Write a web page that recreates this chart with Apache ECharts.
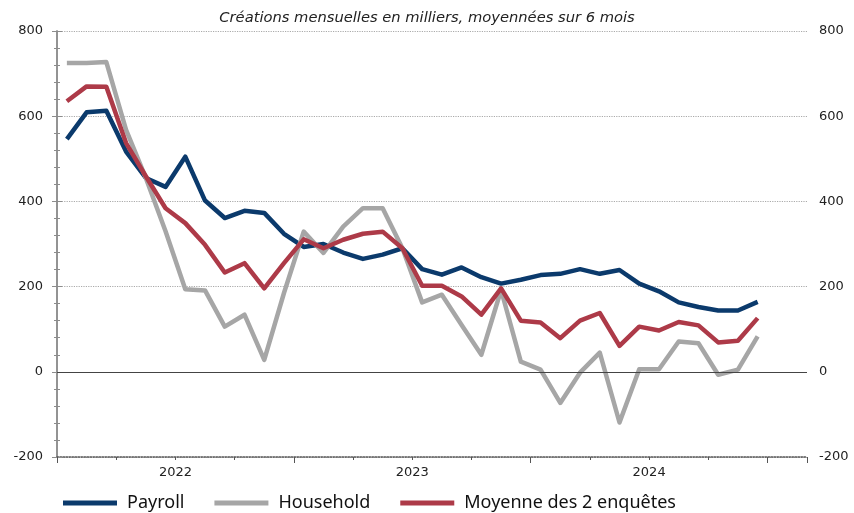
<!DOCTYPE html>
<html>
<head>
<meta charset="utf-8">
<script src="https://cdn.jsdelivr.net/npm/echarts@6/dist/echarts.min.js"></script>
<style>
  html, body { margin: 0; padding: 0; background: #fff; }
  #chart { width: 854px; height: 513px; }
</style>
</head>
<body>
<div id="chart"></div>
<script>
// mois : janv. 2022 -> déc. 2024
const months = [
  '2022-01','2022-02','2022-03','2022-04','2022-05','2022-06','2022-07','2022-08','2022-09','2022-10','2022-11','2022-12',
  '2023-01','2023-02','2023-03','2023-04','2023-05','2023-06','2023-07','2023-08','2023-09','2023-10','2023-11','2023-12',
  '2024-01','2024-02','2024-03','2024-04','2024-05','2024-06','2024-07','2024-08','2024-09','2024-10','2024-11','2024-12'
];
const payroll = [546, 609, 613, 517, 455, 434, 505, 402, 361, 378, 373, 324,
                 293, 300, 280, 265, 275, 290, 241, 228, 245, 222, 207, 216,
                 227, 230, 241, 230, 239, 207, 189, 163, 152, 144, 144, 164];
const household = [725, 725, 727, 568, 455, 330, 194, 191, 106, 134, 28, 185,
                   329, 279, 341, 384, 384, 290, 163, 181, 110, 40, 192, 24,
                   5, -73, -2, 45, -119, 6, 6, 71, 67, -7, 5, 83];
const moyenne = [635, 670, 669, 537, 459, 384, 349, 298, 233, 255, 196, 255,
                 311, 290, 310, 324, 329, 290, 202, 202, 177, 134, 196, 120,
                 116, 79, 120, 138, 61, 106, 97, 117, 109, 69, 73, 126];
const years = ['2022', '2023', '2024'];
const seriesNames = ['Payroll', 'Household', 'Moyenne des 2 enquêtes'];

// l'axe des dates va jusqu'à fin février 2025 (38 mois)
const xMax = 38;
const toPoints = arr => arr.map((v, i) => [i + 0.5, v]);

const chart = echarts.init(document.getElementById('chart'));

const yAxisBase = {
  type: 'value',
  min: -200,
  max: 800,
  interval: 200,
  axisLine: { show: true, lineStyle: { color: '#8c8c8c', width: 1.5 } },
  axisTick: { show: true, length: 5, lineStyle: { color: '#8c8c8c' } },
  minorTick: { show: true, splitNumber: 5, length: 3, lineStyle: { color: '#8c8c8c' } },
  axisLabel: { color: '#222', fontFamily: 'DejaVu Sans', fontSize: 13 }
};

chart.setOption({
  animation: false,
  title: {
    text: 'Créations mensuelles en milliers, moyennées sur 6 mois',
    left: 'center',
    top: 6,
    textStyle: { fontFamily: 'DejaVu Sans', fontStyle: 'italic', fontWeight: 'normal', fontSize: 14.7, color: '#222' }
  },
  color: ['#0b3a6c', '#a6a6a6', '#ad3a48'],
  grid: { left: 57, right: 47, top: 31, bottom: 56 },
  legend: {
    data: seriesNames,
    left: 63,
    top: 494,
    padding: 0,
    icon: 'rect',
    itemWidth: 54,
    itemHeight: 5,
    itemGap: 30,
    textStyle: { fontFamily: 'Noto Sans', fontSize: 18, color: '#111', padding: [0, 0, 0, 5] }
  },
  xAxis: [{
    type: 'value',
    min: 0,
    max: xMax,
    interval: 3,
    position: 'bottom',
    axisLine: { show: true, onZero: false, lineStyle: { color: '#555', type: 'dotted', width: 1.5 } },
    axisTick: { show: true, length: 3, lineStyle: { color: '#555' } },
    splitLine: { show: false },
    axisLabel: {
      color: '#222', fontFamily: 'DejaVu Sans', fontSize: 13, margin: 9,
      formatter: v => (v % 12 === 6 ? years[(v - 6) / 12] || '' : '')
    }
  }, {
    type: 'value',
    min: 0,
    max: xMax,
    interval: 12,
    position: 'bottom',
    axisLine: { show: false, onZero: false },
    axisTick: { show: true, length: 6, lineStyle: { color: '#555' } },
    splitLine: { show: false },
    axisLabel: { show: false }
  }],
  yAxis: [
    Object.assign({}, yAxisBase, {
      position: 'left',
      axisLabel: Object.assign({}, yAxisBase.axisLabel, { margin: 14 }),
      splitLine: { show: true, lineStyle: { color: '#aaa', type: 'dotted', width: 1.2 } }
    }),
    Object.assign({}, yAxisBase, {
      position: 'right',
      axisLabel: Object.assign({}, yAxisBase.axisLabel, { margin: 12 }),
      splitLine: { show: false }
    })
  ],
  series: [{
    name: seriesNames[0],
    type: 'line',
    data: toPoints(payroll),
    showSymbol: false,
    lineStyle: { width: 4.5, join: 'round' },
    markLine: {
      silent: true,
      symbol: ['none', 'none'],
      label: { show: false },
      lineStyle: { color: '#444', width: 1, type: 'solid' },
      data: [{ yAxis: 0 }]
    }
  }, {
    name: seriesNames[1],
    type: 'line',
    data: toPoints(household),
    showSymbol: false,
    lineStyle: { width: 4.5, join: 'round' }
  }, {
    name: seriesNames[2],
    type: 'line',
    data: toPoints(moyenne),
    showSymbol: false,
    lineStyle: { width: 4.5, join: 'round' }
  }]
});
</script>
</body>
</html>
